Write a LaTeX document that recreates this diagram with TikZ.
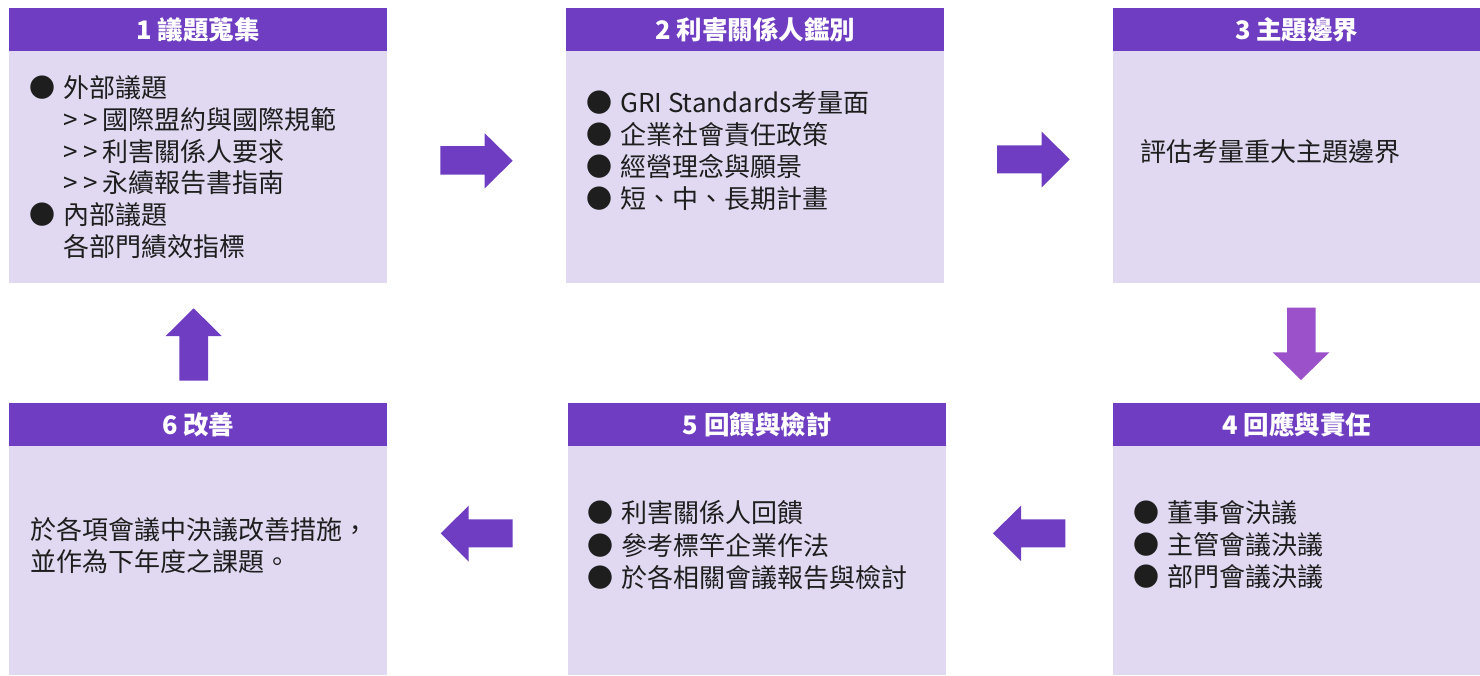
\documentclass[tikz,border=0pt]{standalone}
\usepackage{fontspec}
\setmainfont{Noto Sans CJK TC}
\newfontfamily\cjk{Noto Sans CJK TC}
\definecolor{hdr}{HTML}{6F3DC1}
\definecolor{bdy}{HTML}{E1D9F2}
\definecolor{darr}{HTML}{9B51C9}
\definecolor{txt}{HTML}{1E1E1E}
\newcommand\blt{●\hspace{8pt}}
\newcommand\gtgt{>\kern6pt>\kern4pt}
\begin{document}
\begin{tikzpicture}[x=1pt,y=-1pt,
  hdrbox/.style={fill=hdr, draw=none, inner sep=0pt, anchor=north west, minimum height=43pt,
    font=\cjk\bfseries\fontsize{25.5}{28}\selectfont, text=white},
  bodybox/.style={fill=bdy, draw=none, inner sep=0pt, anchor=north west},
  ln/.style={anchor=west, inner sep=0pt, text=txt, font=\cjk\fontsize{26}{32}\selectfont,
    text height=0.88em, text depth=0.12em, yshift=-6pt},
  blockarrow/.style={fill=hdr, draw=none},
  downarrow/.style={fill=darr, draw=none}
]
\fill[white] (0,0) rectangle (1480,675);
\useasboundingbox (0,0) rectangle (1480,675);

% top row
\node[hdrbox, minimum width=378pt] (h1) at (9,8) {1 議題蒐集};
\node[bodybox, minimum width=378pt, minimum height=232pt] (b1) at (9,51) {};
\node[hdrbox, minimum width=378pt] (h2) at (566,8) {2 利害關係人鑑別};
\node[bodybox, minimum width=378pt, minimum height=232pt] (b2) at (566,51) {};
\node[hdrbox, minimum width=367pt] (h3) at (1113,8) {3 主題邊界};
\node[bodybox, minimum width=367pt, minimum height=232pt] (b3) at (1113,51) {};

% bottom row
\node[hdrbox, minimum width=378pt] (h6) at (9,403) {6 改善};
\node[bodybox, minimum width=378pt, minimum height=229pt] (b6) at (9,446) {};
\node[hdrbox, minimum width=378pt] (h5) at (568,403) {5 回饋與檢討};
\node[bodybox, minimum width=378pt, minimum height=229pt] (b5) at (568,446) {};
\node[hdrbox, minimum width=367pt] (h4) at (1113,403) {4 回應與責任};
\node[bodybox, minimum width=367pt, minimum height=229pt] (b4) at (1113,446) {};

% box 1 text
\node[ln] (t1a) at (29,88) {\blt 外部議題};
\node[ln] (t1b) at (63,120) {\gtgt 國際盟約與國際規範};
\node[ln] (t1c) at (63,152) {\gtgt 利害關係人要求};
\node[ln] (t1d) at (63,183) {\gtgt 永續報告書指南};
\node[ln] (t1e) at (29,215) {\blt 內部議題};
\node[ln] (t1f) at (63,247) {各部門績效指標};

% box 2 text
\node[ln] (t2a) at (586,103) {\blt GRI Standards考量面};
\node[ln] (t2b) at (586,135) {\blt 企業社會責任政策};
\node[ln] (t2c) at (586,167) {\blt 經營理念與願景};
\node[ln] (t2d) at (586,199) {\blt 短、中、長期計畫};

% box 3 text
\node[ln] (t3a) at (1140,152) {評估考量重大主題邊界};

% box 4 text
\node[ln] (t4a) at (1133,513) {\blt 董事會決議};
\node[ln] (t4b) at (1133,545) {\blt 主管會議決議};
\node[ln] (t4c) at (1133,577) {\blt 部門會議決議};

% box 5 text
\node[ln] (t5a) at (587,513) {\blt 利害關係人回饋};
\node[ln] (t5b) at (587,546) {\blt 參考標竿企業作法};
\node[ln] (t5c) at (587,578) {\blt 於各相關會議報告與檢討};

% box 6 text
\node[ln] (t6a) at (30,530) {於各項會議中決議改善措施，};
\node[ln] (t6b) at (30,562) {並作為下年度之課題。};

% arrows
\fill[blockarrow] (440.3,146) -- (484.7,146) -- (484.7,133.3) -- (512.7,160.7) -- (484.7,188.3) -- (484.7,174.7) -- (440.3,174.7) -- cycle;
\fill[blockarrow] (997,145.3) -- (1041.7,145.3) -- (1041.7,131.7) -- (1069.7,159.3) -- (1041.7,187.3) -- (1041.7,173.3) -- (997,173.3) -- cycle;
\fill[downarrow] (1287,307.7) -- (1315.7,307.7) -- (1315.7,352.3) -- (1329.3,352.3) -- (1301,380) -- (1272.7,352.3) -- (1287,352.3) -- cycle;
\fill[blockarrow] (1065.3,519.3) -- (1021,519.3) -- (1021,505.7) -- (993,533.3) -- (1021,561) -- (1021,547.3) -- (1065.3,547.3) -- cycle;
\fill[blockarrow] (512.7,519.3) -- (468.7,519.3) -- (468.7,505.7) -- (440.7,533.3) -- (468.7,561.7) -- (468.7,547.3) -- (512.7,547.3) -- cycle;
\fill[blockarrow] (179.3,380.7) -- (179.3,336) -- (165.7,336) -- (193.7,308.3) -- (221.7,336) -- (208,336) -- (208,380.7) -- cycle;
\end{tikzpicture}
\end{document}
